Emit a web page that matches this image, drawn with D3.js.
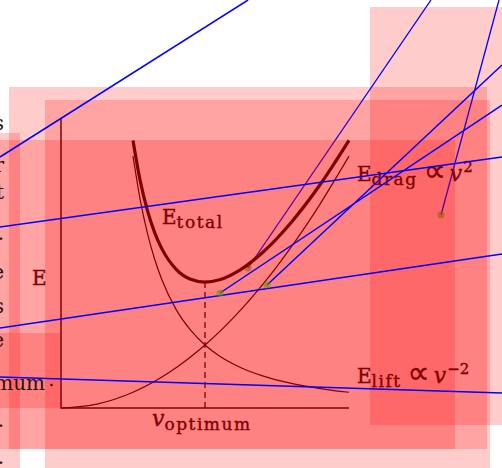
<!DOCTYPE html>
<html>
<head>
<meta charset="utf-8">
<script src="https://cdn.jsdelivr.net/npm/d3@7"></script>
<style>
  html, body { margin: 0; padding: 0; background: #fff; }
  svg { display: block; }
  text { font-family: "DejaVu Serif", "Liberation Serif", serif; }
</style>
</head>
<body>
<svg id="chart" width="502" height="468"></svg>
<script>
// Speed samples (relative to the optimum speed) and the energy terms at each sample.
const vLift   = [0.5, 0.55, 0.6, 0.65, 0.7, 0.8, 0.9, 1.0, 1.1, 1.25, 1.4, 1.6, 1.8, 2.0];
const eLift   = [4, 3.306, 2.778, 2.367, 2.041, 1.5625, 1.235, 1, 0.826, 0.64, 0.51, 0.391, 0.309, 0.25];
const eTotal  = [4.25, 3.609, 3.138, 2.790, 2.531, 2.2025, 2.045, 2, 2.036, 2.2025, 2.47, 2.951, 3.549, 4.25];
const vDrag   = [0, 0.25, 0.5, 0.75, 1.0, 1.25, 1.5, 1.75, 2.0];
const eDrag   = [0, 0.0625, 0.25, 0.5625, 1, 1.5625, 2.25, 3.0625, 4];
const vOptimum = 1;
const axisExtent = { v: [0, 2], e: [0, 4.59] };

// Text of the labels
const axisLabelY = "E";
const labelTotal = ["E", "total"];
const labelDrag  = ["E", "drag", "\u221D", "v", "2"];
const labelLift  = ["E", "lift", "\u221D", "v", "\u22122"];
const labelOpt   = ["v", "optimum"];

// Debug overlay: translucent boxes and leader lines (pixel layout)
const boxesBack  = [[370, 7, 150, 418], [9, 87, 478, 362]];
const boxesFront = [[45, 100, 445, 380], [-5, 140, 460, 309], [-5, 133, 25, 340], [-5, 333, 65, 75]];
const leadersBack  = [[248, 268, 431, 0], [441, 215, 499, 0]];
const leadersFront = [[0, 157, 248, 0], [0, 227, 502, 157], [0, 328, 502, 254], [0, 377, 502, 393],
                      [220, 293, 502, 105], [267, 285, 502, 65]];
const edgeText = [["s", 130], ["r", 172], ["t", 199], [".", 240], ["e", 279], ["s", 313], ["e", 347], ["optimum", 390], [".", 427], [".", 464]];

const svg = d3.select("#chart");
const maroon = "#800000";

const x = d3.scaleLinear().domain(axisExtent.v).range([61, 349]);
const y = d3.scaleLinear().domain(axisExtent.e).range([408, 119]);

const boxFill = "rgba(255,0,0,0.2)";
function drawBoxes(data) {
  svg.append("g").selectAll("rect").data(data).join("rect")
    .attr("x", d => d[0]).attr("y", d => d[1])
    .attr("width", d => d[2]).attr("height", d => d[3])
    .attr("fill", boxFill);
}
function drawLeaders(data, width) {
  svg.append("g").selectAll("line").data(data).join("line")
    .attr("x1", d => d[0]).attr("y1", d => d[1])
    .attr("x2", d => d[2]).attr("y2", d => d[3])
    .attr("stroke", "#0000ff").attr("stroke-width", width);
}
function drawDots(data) {
  svg.append("g").selectAll("circle").data(data).join("circle")
    .attr("cx", d => d[0]).attr("cy", d => d[1]).attr("r", 3.5)
    .attr("fill", "rgba(110,150,0,0.6)");
}

drawBoxes(boxesBack);
drawLeaders(leadersBack, 1.3);
drawDots(leadersBack);
drawBoxes(boxesFront);

// Axes
svg.append("path")
  .attr("d", `M${x(0)},${y(axisExtent.e[1])}V${y(0)}H${x(axisExtent.v[1])}`)
  .attr("stroke", maroon).attr("stroke-width", 1.5).attr("fill", "none");

// Curves
const line = (xs, ys) => d3.line().x((d, i) => x(xs[i])).y((d, i) => y(ys[i])).curve(d3.curveMonotoneX)(ys);
svg.append("path").attr("d", line(vDrag, eDrag)).attr("fill", "none").attr("stroke", maroon).attr("stroke-width", 1.2);
svg.append("path").attr("d", line(vLift, eLift)).attr("fill", "none").attr("stroke", maroon).attr("stroke-width", 1.2);
svg.append("path").attr("d", line(vLift, eTotal)).attr("fill", "none").attr("stroke", maroon).attr("stroke-width", 3.2);

// Optimum marker
const iOpt = vLift.indexOf(vOptimum);
svg.append("line")
  .attr("x1", x(vOptimum)).attr("x2", x(vOptimum))
  .attr("y1", y(eTotal[iOpt])).attr("y2", y(0))
  .attr("stroke", maroon).attr("stroke-width", 1.3).attr("stroke-dasharray", "6,4");

// Labels
const labels = svg.append("g").attr("fill", maroon).attr("stroke", maroon).attr("stroke-width", 0.35);
labels.append("text").attr("x", 32).attr("y", 285).attr("font-size", 20).text(axisLabelY);

function subLabel(parts, px, py) {
  const t = labels.append("text").attr("x", px).attr("y", py).attr("font-size", 20);
  t.append("tspan").text(parts[0]);
  t.append("tspan").attr("dy", 4).attr("font-size", 17).attr("letter-spacing", 1.5).text(parts[1]);
  return t;
}
subLabel(labelTotal, 162, 224);

function propLabel(parts, px, py) {
  const t = subLabel(parts, px, py);
  t.append("tspan").attr("dy", -4).attr("dx", 6)
    .attr("font-family", "DejaVu Sans").attr("font-size", 31).text(parts[2]);
  t.append("tspan").attr("dx", 4).attr("font-style", "italic").attr("font-size", 22).text(parts[3]);
  t.append("tspan").attr("dy", -9).attr("dx", 1).attr("font-size", 15).text(parts[4]);
}
propLabel(labelDrag, 357, 181);
propLabel(labelLift, 357, 383);

const tOpt = labels.append("text").attr("x", 152).attr("y", 426).attr("font-size", 22);
tOpt.append("tspan").attr("font-style", "italic").text(labelOpt[0]);
tOpt.append("tspan").attr("dy", 4).attr("font-size", 17).attr("letter-spacing", 1.5).text(labelOpt[1]);

// Clipped text running in from the left edge
svg.append("g").attr("fill", "#2a1010").selectAll("text").data(edgeText).join("text")
  .attr("x", d => d[0] === "optimum" ? 45 : 4).attr("y", d => d[1])
  .attr("text-anchor", "end").attr("font-size", 20)
  .text(d => d[0]);
svg.append("circle").attr("cx", 51.5).attr("cy", 385).attr("r", 1.3).attr("fill", "#2a1010");

drawLeaders(leadersFront, 1.5);
drawDots(leadersFront.slice(4));
</script>
</body>
</html>
